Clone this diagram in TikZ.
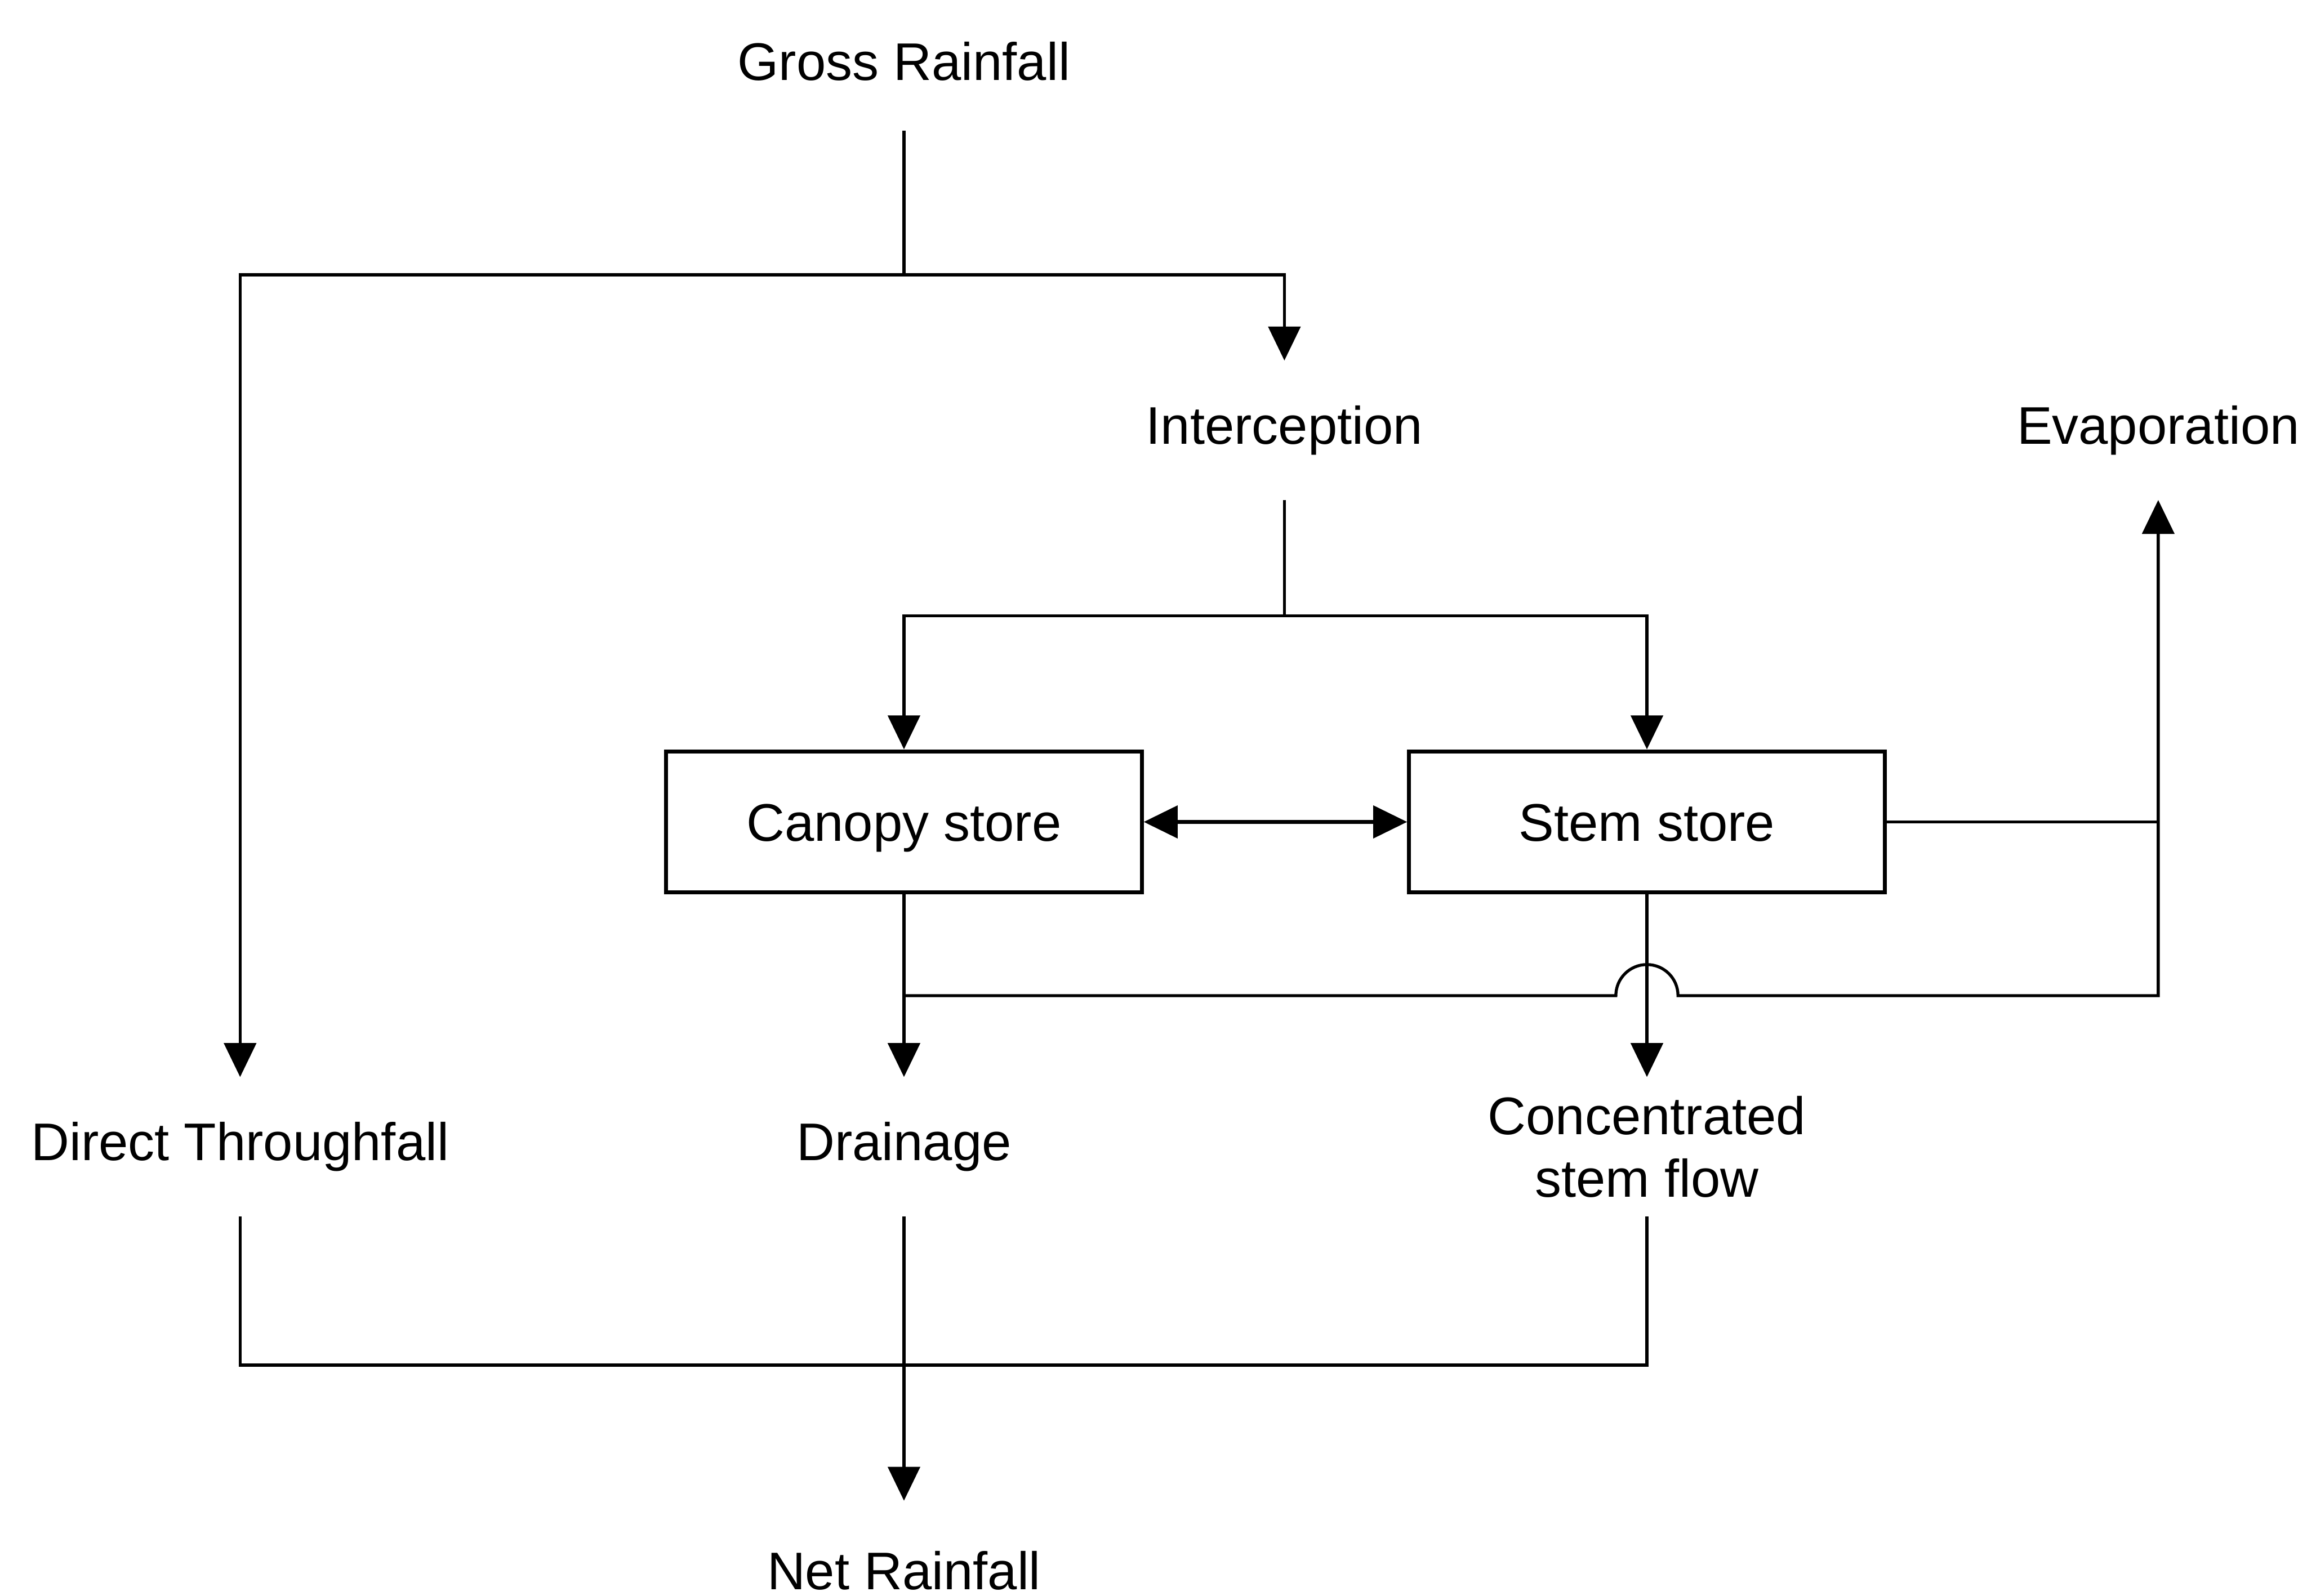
\documentclass[tikz,border=0pt]{standalone}
\usepackage{fontspec}
\setmainfont{Liberation Sans}
\usepackage{tikz}
\usetikzlibrary{arrows.meta,positioning,calc}

\begin{document}
\begin{tikzpicture}[font=\fontsize{16}{19}\selectfont,line width=0.9pt,
  term/.style={rectangle,inner sep=0pt,minimum height=1.45cm,align=center},
  store/.style={rectangle,draw=black,line width=1.2pt,minimum width=5.05cm,
                minimum height=1.5cm,text centered,text height=11.5pt,text depth=0pt},
  flow/.style={-{Triangle[length=0.36cm,width=0.34cm]}},
  swap/.style={{Triangle[length=0.36cm,width=0.34cm]}-{Triangle[length=0.36cm,width=0.34cm]},
               line width=1.3pt}]

  \useasboundingbox (0,0) rectangle (24.5,16.95);

  % labels
  \node[term] (gross)     at (9.60,16.30)  {Gross Rainfall};
  \node[term] (intercept) at (13.64,12.38) {Interception};
  \node[term] (evap)      at (22.92,12.38) {Evaporation};
  \node[term] (through)   at (2.55,4.77)   {Direct Throughfall};
  \node[term] (drain)     at (9.60,4.77)   {Drainage};
  \node[term] (stemflow)  at (17.49,4.77)  {Concentrated\\stem flow};
  \node[term] (net)       at (9.60,0.27)   {Net Rainfall};

  % stores
  \node[store] (canopy) at (9.60,8.22)  {Canopy store};
  \node[store] (stem)   at (17.49,8.22) {Stem store};

  % junctions
  \coordinate (split1) at (9.60,14.03);
  \coordinate (split2) at (13.64,10.41);
  \coordinate (merge)  at (9.60,6.375);
  \coordinate (join)   at (9.60,2.45);

  % gross rainfall split
  \draw (gross.south) -- (split1);
  \draw[flow] (split1) -| (through.north);
  \draw[flow] (split1) -| (intercept.north);

  % interception to the stores
  \draw (intercept.south) -- (split2);
  \draw[flow] (split2) -| (canopy.north);
  \draw[flow] (split2) -| (stem.north);
  \draw[swap] (canopy.east) -- (stem.west);

  % evaporation
  \draw (stem.east) -- (evap.south |- stem.east);
  \draw[flow] (merge) -- ($(stem.south |- merge)+(-0.33,0)$)
        arc[start angle=180,end angle=0,radius=0.33cm] -| (evap.south);

  % drainage and stem flow
  \draw[flow] (canopy.south) -- (drain.north);
  \draw[flow] (stem.south) -- (stemflow.north);

  % net rainfall
  \draw (through.south) |- (join);
  \draw (stemflow.south) |- (join);
  \draw[flow] (drain.south) -- (net.north);
\end{tikzpicture}
\end{document}
